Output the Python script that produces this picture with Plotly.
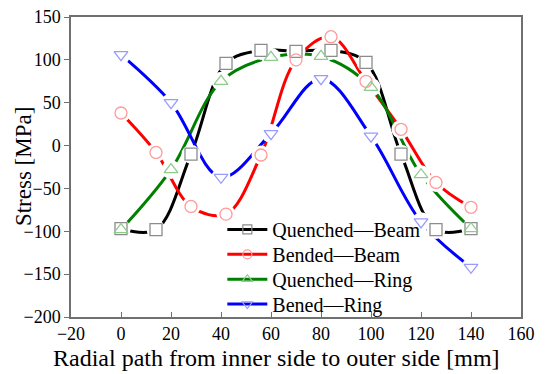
import plotly.graph_objects as go

x14 = [0, 14, 28, 42, 56, 70, 84, 98, 112, 126, 140]
x20 = [0, 20, 40, 60, 80, 100, 120, 140]

quenched_beam = [-97, -98, -10, 96, 111, 110, 111, 97, -10, -98, -97]
bended_beam = [38, -8, -71, -80, -11, 100, 127, 75, 19, -43, -72]
quenched_ring = [-98, -28, 75, 103, 104, 68, -34, -97]
bened_ring = [106, 50, -37, 14, 78, 11, -89, -142]

names = ["Quenched\u2014Beam", "Bended\u2014Beam", "Quenched\u2014Ring", "Bened\u2014Ring"]
xs = [x14, x14, x20, x20]
ys = [quenched_beam, bended_beam, quenched_ring, bened_ring]
line_colors = ["#000000", "#ff0000", "#008000", "#0000ff"]
marker_colors = ["#8c8c8c", "#ff9a9a", "#8fcb8f", "#9a9aff"]
symbols = ["square-open", "circle-open", "triangle-up-open", "triangle-down-open"]

FONT = "Liberation Serif"
fig = go.Figure()

# lines
for x, y, lc in zip(xs, ys, line_colors):
    fig.add_trace(go.Scatter(x=x, y=y, mode="lines", line=dict(color=lc, width=3, shape="spline", smoothing=1.0),
                             showlegend=False, hoverinfo="skip"))
# white gaps around markers
for x, y in zip(xs, ys):
    fig.add_trace(go.Scatter(x=x, y=y, mode="markers", marker=dict(symbol="circle", size=19, color="white", line=dict(width=0)),
                             showlegend=False, hoverinfo="skip"))
# markers
for x, y, mc, s in zip(xs, ys, marker_colors, symbols):
    fig.add_trace(go.Scatter(x=x, y=y, mode="markers", marker=dict(symbol=s, size=12, color=mc, line=dict(width=1.3, color=mc)),
                             showlegend=False))

# legend entries, one legend per row for exact spacing
legend_ids = ["legend", "legend2", "legend3", "legend4"]
legend_rows = [0.292, 0.209, 0.126, 0.043]
for n, lc, mc, s, lid in zip(names, line_colors, marker_colors, symbols, legend_ids):
    fig.add_trace(go.Scatter(x=[None], y=[None], mode="lines+markers", name=n, legend=lid,
                             line=dict(color=lc, width=3),
                             marker=dict(symbol=s, size=9, color=mc, line=dict(width=1.2, color=mc))))

axis_common = dict(showline=True, linecolor="#707070", linewidth=1.5, mirror=True, ticklen=5,
                   tickcolor="#707070", showgrid=False, zeroline=False, automargin=False,
                   ticklabeloverflow="allow", tickfont=dict(family=FONT, size=18, color="black"))
fig.update_xaxes(range=[-20, 160], dtick=20, tick0=-20, ticks="inside", **axis_common)
fig.update_yaxes(range=[-200, 150], dtick=50, tick0=-200, ticks="outside", **axis_common)

fig.add_annotation(text="Radial path from inner side to outer side [mm]", xref="paper", yref="paper",
                   x=0.456, y=-0.1872, xanchor="center", yanchor="bottom", showarrow=False,
                   font=dict(family=FONT, size=24, color="black"))
fig.add_annotation(text="Stress [MPa]", xref="paper", yref="paper", textangle=-90,
                   x=-0.1387, y=0.5, xanchor="left", yanchor="middle", showarrow=False,
                   font=dict(family=FONT, size=23, color="black"))

legend_common = dict(xanchor="left", yanchor="middle", bgcolor="rgba(0,0,0,0)",
                     font=dict(family=FONT, size=20, color="black"), itemwidth=40)
layout_legends = {lid: dict(x=0.3363, y=yr, **legend_common) for lid, yr in zip(legend_ids, legend_rows)}

fig.update_layout(width=542, height=366, margin=dict(l=62.5, r=29, t=8.5, b=57.3), plot_bgcolor="white",
                  paper_bgcolor="white", **layout_legends)
fig.write_html("out.html")
